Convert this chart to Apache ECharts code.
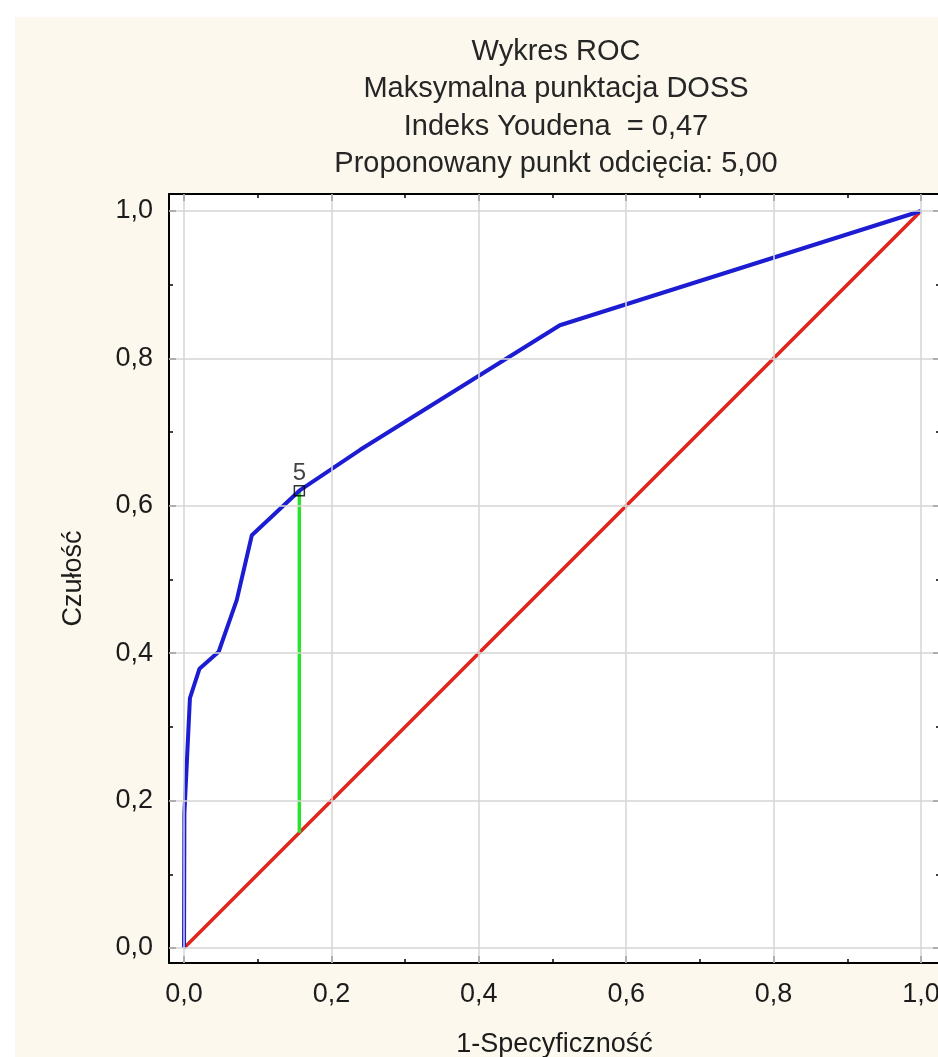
<!DOCTYPE html>
<html>
<head>
<meta charset="utf-8">
<script src="https://cdn.jsdelivr.net/npm/echarts@6/dist/echarts.min.js"></script>
<style>
html,body{margin:0;padding:0;background:#ffffff;overflow:hidden;width:938px;height:1057px;}
#chart{position:absolute;left:0;top:0;width:950px;height:1057px;}
</style>
</head>
<body>
<div id="chart"></div>
<script>
// ---- data ----
const titleLines = ['Wykres ROC', 'Maksymalna punktacja DOSS', 'Indeks Youdena  = 0,47', 'Proponowany punkt odcięcia: 5,00'];
const xAxisTitle = '1-Specyficzność';
const yAxisTitle = 'Czułość';
const majorTicks = [0, 0.2, 0.4, 0.6, 0.8, 1.0];
const minorTicks = [0.1, 0.3, 0.5, 0.7, 0.9];
const rocFpr = [0, 0.0005, 0.008, 0.021, 0.047, 0.0715, 0.092, 0.1565, 0.239, 0.510, 1.0];
const rocTpr = [0, 0.183, 0.339, 0.379, 0.402, 0.472, 0.560, 0.6205, 0.676, 0.845, 1.0];
const diagX = [0, 1];
const diagY = [0, 1];
const cutX = 0.1565;
const cutY = 0.6205;
const cutLabel = '5';

// ---- layout ----
const XMIN = -0.0204, XMAX = 1.0258, YMIN = -0.0204, YMAX = 1.0231;
const FONT = '"Liberation Sans", Arial, sans-serif';
const fmt = v => v.toFixed(1).replace('.', ',');

const chart = echarts.init(document.getElementById('chart'), null, {renderer: 'canvas'});

function xAx(pos, ticks, len, showLine, showLabel, extra) {
  return Object.assign({
    type: 'value', gridIndex: 0, position: pos, min: XMIN, max: XMAX,
    axisLine: {show: showLine, onZero: false, lineStyle: {color: '#000', width: 2}},
    axisTick: {show: true, inside: true, length: len, customValues: ticks, lineStyle: {color: '#000', width: 1.5}},
    axisLabel: showLabel ? {show: true, customValues: majorTicks, formatter: fmt, fontSize: 27, fontFamily: FONT, color: '#1c1c1c', margin: 18}
                         : {show: false},
    splitLine: {show: false}
  }, extra || {});
}
function yAx(pos, ticks, len, showLine, showLabel, extra) {
  return Object.assign({
    type: 'value', gridIndex: 0, position: pos, min: YMIN, max: YMAX,
    axisLine: {show: showLine, onZero: false, lineStyle: {color: '#000', width: 2}},
    axisTick: {show: true, inside: true, length: len, customValues: ticks, lineStyle: {color: '#000', width: 1.5}},
    axisLabel: showLabel ? {show: true, customValues: majorTicks, formatter: fmt, fontSize: 27, fontFamily: FONT, color: '#1c1c1c', margin: 16}
                         : {show: false},
    splitLine: {show: false}
  }, extra || {});
}

const option = {
  animation: false,
  backgroundColor: 'transparent',
  graphic: [
    {type: 'rect', z: -100, silent: true, shape: {x: 15, y: 17, width: 935, height: 1040}, style: {fill: '#fcf8ed'}},
    {type: 'text', z: 10, silent: true, x: 556, y: 33,
     style: {text: titleLines.join('\n'), font: '29px ' + FONT, fill: '#262626', align: 'center', verticalAlign: 'top', lineHeight: 37.5}}
  ],
  grid: {left: 169, top: 194, right: 10, bottom: 94, show: true, backgroundColor: '#ffffff', borderWidth: 0,
         containLabel: false, outerBoundsMode: 'none'},
  xAxis: [
    xAx('bottom', majorTicks, 7, true, true, {name: xAxisTitle, nameLocation: 'middle', nameGap: 68,
        nameTextStyle: {fontSize: 27, fontFamily: FONT, color: '#1c1c1c'}}),
    xAx('bottom', minorTicks, 4, false, false),
    xAx('top', majorTicks, 7, true, false),
    xAx('top', minorTicks, 4, false, false)
  ],
  yAxis: [
    yAx('left', majorTicks, 7, true, true, {name: yAxisTitle, nameLocation: 'middle', nameGap: 82, nameRotate: 90,
        nameTextStyle: {fontSize: 27, fontFamily: FONT, color: '#1c1c1c'}}),
    yAx('left', minorTicks, 4, false, false),
    yAx('right', majorTicks, 7, true, false),
    yAx('right', minorTicks, 4, false, false)
  ],
  series: [
    {
      type: 'line', xAxisIndex: 0, yAxisIndex: 0, z: 1, silent: true,
      data: [[0, 0]], showSymbol: false, symbol: 'none', lineStyle: {opacity: 0},
      markLine: {
        silent: true, symbol: ['none', 'none'], label: {show: false}, animation: false,
        lineStyle: {type: 'solid', color: '#d4d4d4', width: 1.5},
        data: majorTicks.map(v => ({xAxis: v})).concat(majorTicks.map(v => ({yAxis: v})))
      }
    },
    {
      type: 'line', xAxisIndex: 0, yAxisIndex: 0, z: 2, silent: true,
      data: diagX.map((x, i) => [x, diagY[i]]), symbol: 'none',
      lineStyle: {color: '#e3231c', width: 3.5}
    },
    {
      type: 'line', xAxisIndex: 0, yAxisIndex: 0, z: 3, silent: true,
      data: [[cutX, cutX], [cutX, cutY]], symbol: 'none',
      lineStyle: {color: '#2ee02e', width: 3.5}
    },
    {
      type: 'line', xAxisIndex: 0, yAxisIndex: 0, z: 4, silent: true,
      data: rocFpr.map((x, i) => [x, rocTpr[i]]), symbol: 'none',
      lineStyle: {color: '#1c1cd2', width: 4}
    },
    {
      type: 'scatter', xAxisIndex: 0, yAxisIndex: 0, z: 5, silent: true,
      data: [[cutX, cutY]], symbol: 'rect', symbolSize: 10,
      itemStyle: {color: 'rgba(0,0,0,0)', borderColor: '#000', borderWidth: 1.5},
      label: {show: true, position: 'top', distance: 0, formatter: cutLabel, fontSize: 24, fontFamily: FONT, color: '#111'}
    }
  ]
};
chart.setOption(option);
</script>
</body>
</html>
